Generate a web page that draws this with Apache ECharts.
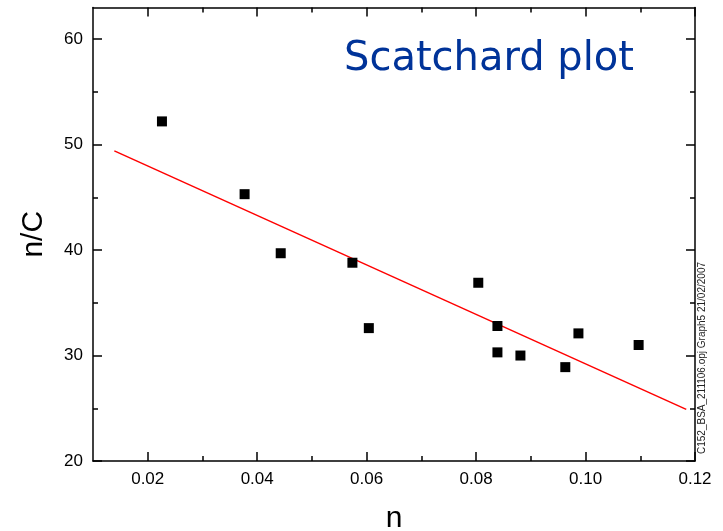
<!DOCTYPE html>
<html>
<head>
<meta charset="utf-8">
<title>Scatchard plot</title>
<script src="https://cdn.jsdelivr.net/npm/echarts@6/dist/echarts.min.js"></script>
<style>
  html, body { margin: 0; padding: 0; background: #ffffff; }
  #chart { width: 723px; height: 531px; }
</style>
</head>
<body>
<div id="chart"></div>
<script>
// Measured binding points: n (bound fraction) vs n/C
const nValues  = [0.0226, 0.0377, 0.0443, 0.0574, 0.0604, 0.0804, 0.0839, 0.0839, 0.0881, 0.0963, 0.0987, 0.1097];
const ncValues = [52.2, 45.3, 39.7, 38.8, 32.6, 36.9, 32.8, 30.3, 30.0, 28.9, 32.1, 31.0];

// Linear fit, drawn between its two end points
const fitN  = [0.0139, 0.1184];
const fitNC = [49.4, 24.9];

// Axis ticks
const xMajorTicks = [0.02, 0.04, 0.06, 0.08, 0.10, 0.12];
const xMinorTicks = [0.03, 0.05, 0.07, 0.09, 0.11];
const yMajorTicks = [20, 30, 40, 50, 60];
const yMinorTicks = [25, 35, 45, 55];

const X_MIN = 0.01, X_MAX = 0.12, Y_MIN = 20, Y_MAX = 63;

const points = nValues.map((n, i) => [n, ncValues[i]]);
const fitLine = fitN.map((n, i) => [n, fitNC[i]]);

const LABEL_FONT = '"Liberation Sans", Arial, sans-serif';
const lineStyle = { color: '#000', width: 1.5 };

function xAxis(position, ticks, len, withLine, withLabels, extra) {
  return Object.assign({
    type: 'value', position: position, min: X_MIN, max: X_MAX,
    axisLine: { show: withLine, onZero: false, lineStyle: lineStyle },
    axisTick: { show: true, inside: true, length: len, customValues: ticks, lineStyle: lineStyle },
    axisLabel: withLabels ? {
      show: true, customValues: ticks, margin: 10, color: '#000',
      fontSize: 17, fontFamily: LABEL_FONT,
      formatter: v => v.toFixed(2)
    } : { show: false },
    splitLine: { show: false }
  }, extra || {});
}

function yAxis(position, ticks, len, withLine, withLabels, extra) {
  return Object.assign({
    type: 'value', position: position, min: Y_MIN, max: Y_MAX,
    axisLine: { show: withLine, onZero: false, lineStyle: lineStyle },
    axisTick: { show: true, inside: true, length: len, customValues: ticks, lineStyle: lineStyle },
    axisLabel: withLabels ? {
      show: true, customValues: ticks, margin: 10, color: '#000',
      fontSize: 17, fontFamily: LABEL_FONT,
      formatter: v => String(Math.round(v))
    } : { show: false },
    splitLine: { show: false }
  }, extra || {});
}

const chart = echarts.init(document.getElementById('chart'), null, { renderer: 'canvas' });

chart.setOption({
  animation: false,
  backgroundColor: '#ffffff',
  grid: { left: 93, right: 28, top: 7.5, bottom: 70, outerBoundsMode: 'none' },
  xAxis: [
    xAxis('bottom', xMajorTicks, 9, true, true, {
      name: 'n', nameLocation: 'middle', nameGap: 43,
      nameTextStyle: { fontSize: 30, color: '#000', fontFamily: LABEL_FONT }
    }),
    xAxis('bottom', xMinorTicks, 5, false, false),
    xAxis('top', xMajorTicks, 9, true, false),
    xAxis('top', xMinorTicks, 5, false, false)
  ],
  yAxis: [
    yAxis('left', yMajorTicks, 9, true, true, {
      name: 'n/C', nameLocation: 'middle', nameGap: 44,
      nameTextStyle: { fontSize: 30, color: '#000', fontFamily: LABEL_FONT }
    }),
    yAxis('left', yMinorTicks, 5, false, false),
    yAxis('right', yMajorTicks, 9, true, false),
    yAxis('right', yMinorTicks, 5, false, false)
  ],
  series: [
    {
      type: 'line', name: 'fit', data: fitLine,
      xAxisIndex: 0, yAxisIndex: 0,
      showSymbol: false, symbol: 'none',
      lineStyle: { color: '#ff0000', width: 1.5 },
      z: 2
    },
    {
      type: 'scatter', name: 'n/C', data: points,
      xAxisIndex: 0, yAxisIndex: 0,
      symbol: 'rect', symbolSize: 10,
      itemStyle: { color: '#000', opacity: 1 },
      z: 3
    }
  ],
  graphic: [
    {
      type: 'text', x: 344, y: 60,
      style: {
        text: 'Scatchard plot', fill: '#003399',
        font: 'normal 40px "DejaVu Sans", Verdana, sans-serif',
        align: 'left', verticalAlign: 'middle'
      }
    },
    {
      type: 'text', x: 702, y: 358, rotation: Math.PI / 2,
      style: {
        text: 'C152_BSA_211106.opj Graph5 21/02/2007', fill: '#222',
        font: 'normal 10px "Liberation Sans", Arial, sans-serif',
        align: 'center', verticalAlign: 'middle'
      }
    }
  ]
});
</script>
</body>
</html>
